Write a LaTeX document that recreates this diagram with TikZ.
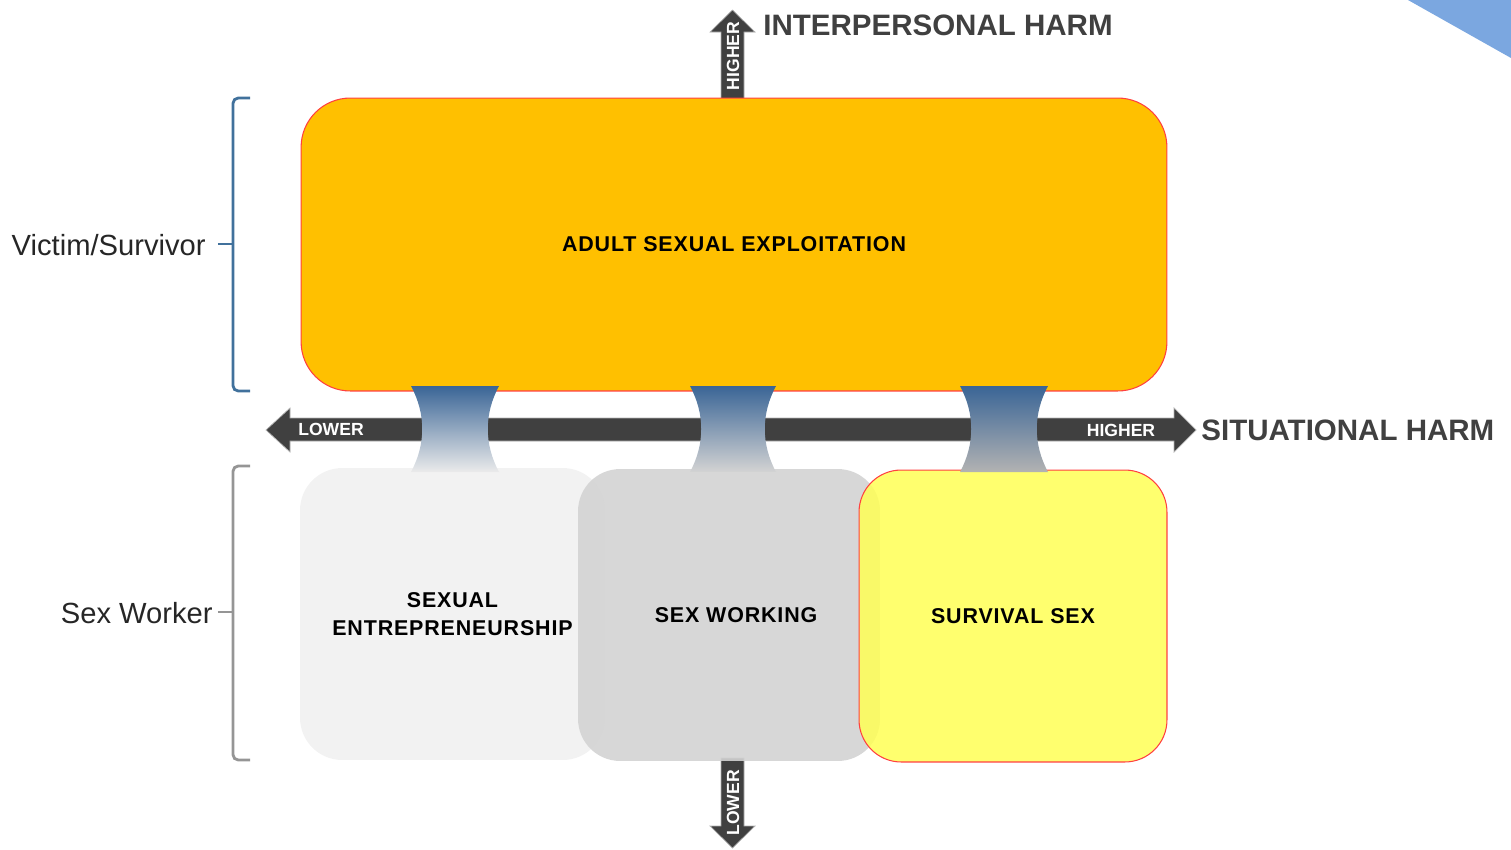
\documentclass[tikz,border=0pt]{standalone}
\usepackage{fontspec}
\setmainfont{Liberation Sans}
\usetikzlibrary{positioning}
\definecolor{harmdark}{HTML}{404040}
\definecolor{exporange}{HTML}{FFC000}
\definecolor{boxred}{HTML}{FF4040}
\definecolor{survyellow}{HTML}{FFFF55}
\definecolor{workgray}{HTML}{D3D3D3}
\definecolor{entrgray}{HTML}{F2F2F2}
\definecolor{connblue}{HTML}{3A6596}
\definecolor{victimblue}{HTML}{41719C}
\definecolor{workerbrace}{HTML}{959595}
\definecolor{cornerblue}{HTML}{7BA7E0}

\begin{document}
\begin{tikzpicture}[x=0.02cm,y=-0.02cm,
    big box/.style={rectangle,rounded corners=28pt,inner sep=0pt,align=center,font=\fontsize{12.2}{15.9}\selectfont\bfseries\addfontfeatures{LetterSpace=4}},
    small box/.style={rectangle,rounded corners=24pt,inner sep=0pt,align=center,minimum height=5.84cm,font=\fontsize{12.2}{15.9}\selectfont\bfseries\addfontfeatures{LetterSpace=4}},
    axis text/.style={font=\fontsize{10}{12}\selectfont\bfseries,text=white,inner sep=0pt},
    harm text/.style={font=\fontsize{16.8}{20}\selectfont\bfseries,text=harmdark,inner sep=0pt},
    side text/.style={font=\fontsize{16.6}{20}\selectfont,text=black!85,inner sep=0pt},
    axis arrow/.style={fill=harmdark,draw=gray!60,line width=0.4pt}]

  \useasboundingbox (0,0) rectangle (1511,849);
  \fill[cornerblue] (1408,0) -- (1511,0) -- (1511,58) -- cycle;

  % vertical axis, top and bottom ends
  \path[axis arrow] (732.5,10) -- (755,32) -- (744,32) -- (744,100) -- (721,100) -- (721,32) -- (710,32) -- cycle;
  \path[axis arrow] (721,758) -- (744,758) -- (744,826) -- (755,826) -- (732.5,848) -- (710,826) -- (721,826) -- cycle;
  \node[axis text,rotate=90] (vhigh) at (733,56) {HIGHER};
  \node[axis text,rotate=90] (vlow) at (733,803) {LOWER};
  \node[harm text,anchor=base west] (iharm) at (763,35) {INTERPERSONAL HARM};

  % horizontal axis
  \path[axis arrow] (266,430) -- (290,408) -- (290,418) -- (1174,418) -- (1174,408) -- (1196,430)
     -- (1174,452) -- (1174,441) -- (290,441) -- (290,452) -- cycle;
  \node[axis text] (hlow) at (331,429) {LOWER};
  \node[axis text] (hhigh) at (1121,430) {HIGHER};
  \node[harm text,anchor=base west] (sharm) at (1201,440) {SITUATIONAL HARM};

  \node[big box,fill=exporange,draw=boxred,line width=0.6pt,minimum width=17.32cm,minimum height=5.86cm] (ase) at (734,244.5) {ADULT SEXUAL EXPLOITATION};
  \node[small box,fill=entrgray,minimum width=6.1cm] (entr) at (452.5,614) {SEXUAL\\ENTREPRENEURSHIP};
  \node[small box,fill=workgray,fill opacity=0.9,text opacity=1,minimum width=6.04cm] (work) at (729,615) {\hspace*{8pt}SEX WORKING};
  \node[small box,fill=survyellow,fill opacity=0.85,text opacity=1,draw=boxred,draw opacity=1,line width=0.6pt,minimum width=6.16cm] (surv) at (1013,616) {SURVIVAL SEX};

  % links between the top box and the lower ones
  \foreach \xa/\xb/\c in {411/499/entrgray!97!black, 690/776/workgray, 960/1048/black!30}
    \shade[top color=connblue,bottom color=\c] (\xa,386) -- (\xb,386) .. controls (\xb-15,414) and (\xb-15,444) .. (\xb,472)
       -- (\xa,472) .. controls (\xa+15,444) and (\xa+15,414) .. (\xa,386) -- cycle;

  % side brackets
  \draw[victimblue,line width=1.6pt,rounded corners=3pt] (250,98) -- (233,98) -- (233,391) -- (250,391);
  \node[side text,anchor=base east] (vict) at (206,255) {Victim/Survivor};
  \draw[victimblue,line width=1.6pt] ([xshift=6.8pt]vict.east |- 0,244) -- (233,244);

  \draw[workerbrace,line width=1.6pt,rounded corners=3pt] (250,466) -- (233,466) -- (233,760) -- (250,760);
  \node[side text,anchor=base east] (sexw) at (213,623) {Sex Worker};
  \draw[workerbrace,line width=1.6pt] ([xshift=2.8pt]sexw.east |- 0,612) -- (233,612);
\end{tikzpicture}
\end{document}
